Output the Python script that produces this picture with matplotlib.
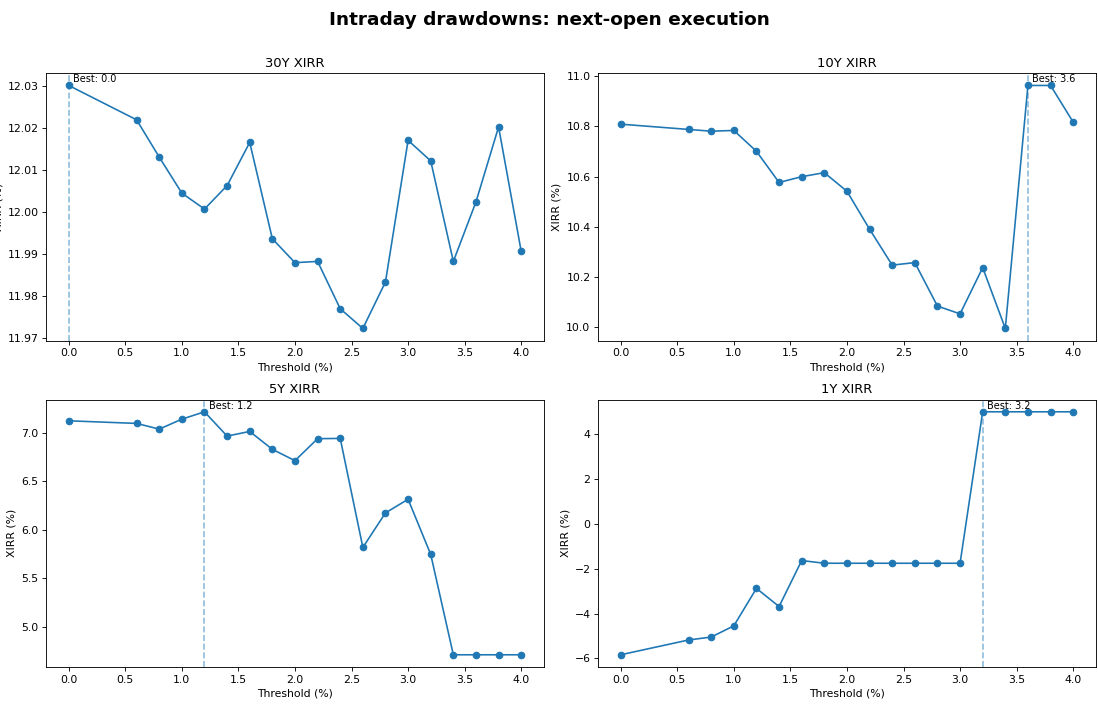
import matplotlib
matplotlib.use("Agg")
import matplotlib.pyplot as plt

# ── Data ────────────────────────────────────────────────────────────────────
thresholds = [0.0, 0.6, 0.8, 1.0, 1.2, 1.4, 1.6, 1.8, 2.0, 2.2,
              2.4, 2.6, 2.8, 3.0, 3.2, 3.4, 3.6, 3.8, 4.0]

xirr_30y = [12.0302, 12.0220, 12.0131, 12.0045, 12.0007, 12.0063, 12.0166,
            11.9936, 11.9879, 11.9882, 11.9769, 11.9722, 11.9833, 12.0171,
            12.0122, 11.9882, 12.0024, 12.0203, 11.9906]
xirr_10y = [10.809, 10.788, 10.781, 10.784, 10.701, 10.577, 10.600, 10.616,
            10.542, 10.391, 10.248, 10.258, 10.085, 10.054, 10.238, 9.996,
            10.963, 10.963, 10.817]
xirr_5y = [7.127, 7.100, 7.041, 7.144, 7.220, 6.969, 7.017, 6.832, 6.715,
           6.942, 6.945, 5.818, 6.175, 6.316, 5.746, 4.708, 4.708, 4.708, 4.708]
xirr_1y = [-5.84, -5.18, -5.05, -4.55, -2.88, -3.69, -1.64, -1.76, -1.76,
           -1.76, -1.76, -1.76, -1.76, -1.76, 4.99, 4.99, 4.99, 4.99, 4.99]

horizons = ["30Y", "10Y", "5Y", "1Y"]
series = [xirr_30y, xirr_10y, xirr_5y, xirr_1y]

DPI = 78.4


def plot_panel(ax, label, values):
    ax.plot(thresholds, values, marker="o", color="#1f77b4")
    best_i = max(range(len(values)), key=lambda i: values[i])
    best = thresholds[best_i]
    ax.axvline(best, color="#1f77b4", linestyle="--", alpha=0.5)
    ax.annotate(f"Best: {best:.1f}", xy=(best, 1.0),
                xycoords=("data", "axes fraction"),
                xytext=(4, -1), textcoords="offset points",
                va="top", fontsize=9)
    ax.set_title(f"{label} XIRR", fontsize=12)
    ax.set_xlabel("Threshold (%)")
    ax.set_ylabel("XIRR (%)")


fig, axes = plt.subplots(2, 2, figsize=(1098 / DPI, 705 / DPI), dpi=DPI)
for ax, label, values in zip(axes.flat, horizons, series):
    plot_panel(ax, label, values)

fig.suptitle("Intraday drawdowns: next-open execution",
             fontsize=17, fontweight="bold", y=0.985)
fig.subplots_adjust(left=0.042, right=0.998, top=0.896, bottom=0.054,
                    wspace=0.109, hspace=0.221)
fig.savefig("out.png", dpi=DPI)
